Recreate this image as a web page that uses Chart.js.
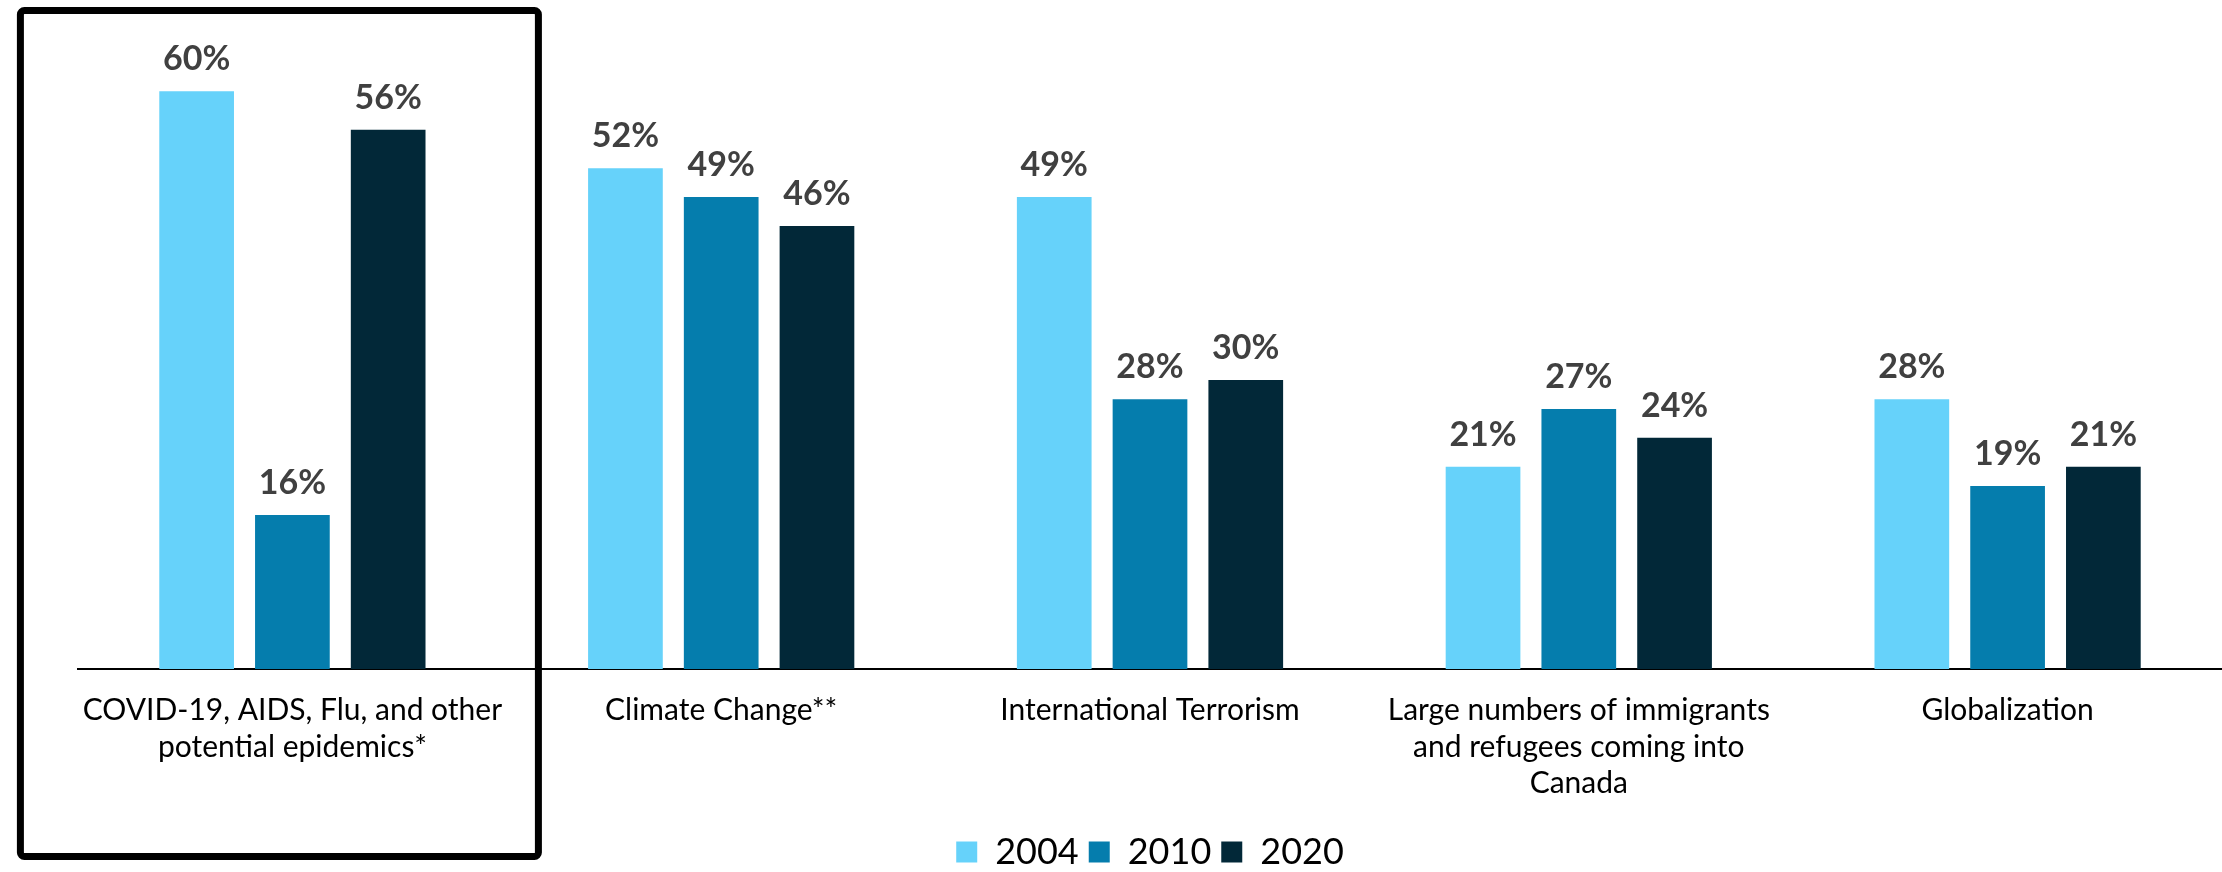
<!DOCTYPE html>
<html>
<head>
<meta charset="utf-8">
<script src="https://cdn.jsdelivr.net/npm/chart.js@4.4.1/dist/chart.umd.min.js"></script>
<style>
  html, body { margin: 0; padding: 0; background: #fff; }
  #wrap { width: 2222px; height: 872px; position: relative; }
</style>
</head>
<body>
<div id="wrap"><canvas id="c" width="2222" height="872"></canvas></div>
<script>
const categories = [
  ["COVID-19, AIDS, Flu, and other", "potential epidemics*"],
  ["Climate Change**"],
  ["International Terrorism"],
  ["Large numbers of immigrants", "and refugees coming into", "Canada"],
  ["Globalization"]
];
const seriesNames = ["2004", "2010", "2020"];
const values2004 = [60, 52, 49, 21, 28];
const values2010 = [16, 49, 28, 27, 19];
const values2020 = [56, 46, 30, 24, 21];
const seriesColors = ["#66D2FA", "#057DAD", "#022838"];

const FONT = "Lato, 'Open Sans', sans-serif";

const valueLabels = {
  id: 'valueLabels',
  afterDatasetsDraw(chart) {
    const ctx = chart.ctx;
    ctx.save();
    ctx.font = "bold 34px " + FONT;
    ctx.fillStyle = "#404040";
    ctx.textAlign = "center";
    ctx.textBaseline = "alphabetic";
    chart.data.datasets.forEach((ds, di) => {
      const meta = chart.getDatasetMeta(di);
      meta.data.forEach((bar, i) => {
        ctx.fillText(ds.data[i] + "%", bar.x, bar.y - 21);
      });
    });
    ctx.restore();
  }
};

const highlightBox = {
  id: 'highlightBox',
  afterDraw(chart) {
    const ctx = chart.ctx;
    const x = chart.scales.x;
    const c0 = x.getPixelForValue(0);
    ctx.save();
    ctx.strokeStyle = "#000";
    ctx.lineWidth = 7;
    ctx.beginPath();
    if (ctx.roundRect) {
      ctx.roundRect(c0 - 272, 10.5, 518, 846, 4);
    } else {
      ctx.rect(c0 - 272, 10.5, 518, 846);
    }
    ctx.stroke();
    ctx.restore();
  }
};

new Chart(document.getElementById('c'), {
  type: 'bar',
  data: {
    labels: categories,
    datasets: [
      { label: seriesNames[0], data: values2004, backgroundColor: seriesColors[0] },
      { label: seriesNames[1], data: values2010, backgroundColor: seriesColors[1] },
      { label: seriesNames[2], data: values2020, backgroundColor: seriesColors[2] }
    ]
  },
  options: {
    responsive: false,
    animation: false,
    devicePixelRatio: 1,
    categoryPercentage: 0.67,
    barPercentage: 0.78,
    layout: { padding: { top: 43, left: 78, right: -4, bottom: -8 } },
    scales: {
      x: {
        grid: { display: false, drawTicks: false },
        border: { display: true, color: "#000", width: 2 },
        ticks: {
          color: "#000",
          font: { family: FONT, size: 30, lineHeight: 1.22 },
          padding: 23,
          maxRotation: 0,
          autoSkip: false
        },
        afterFit(scale) { scale.height = 155; }
      },
      y: {
        display: false,
        min: 0,
        max: 65
      }
    },
    plugins: {
      legend: {
        position: 'bottom',
        fullSize: false,
        labels: {
          color: "#000",
          font: { family: FONT, size: 36 },
          boxWidth: 21,
          boxHeight: 21,
          padding: 10
        }
      },
      tooltip: { enabled: false }
    }
  },
  plugins: [valueLabels, highlightBox]
});
</script>
</body>
</html>
